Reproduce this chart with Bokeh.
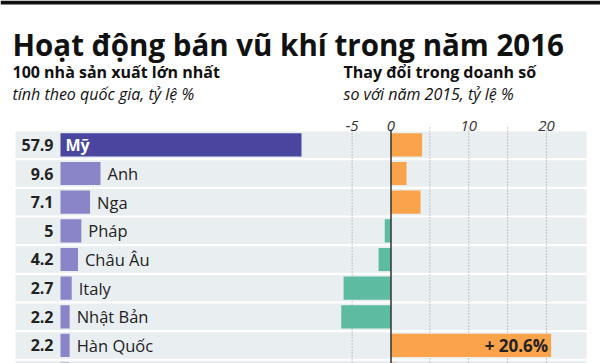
from bokeh.plotting import figure
from bokeh.models import Range1d, Label, ColumnDataSource
from bokeh.core.properties import value
from bokeh.embed import file_html
from bokeh.resources import INLINE

# ---- data ----
countries = ["Mỹ", "Anh", "Nga", "Pháp", "Châu Âu", "Italy", "Nhật Bản", "Hàn Quốc", "Israel"]
share = [57.9, 9.6, 7.1, 5, 4.2, 2.7, 2.2, 2.2, 2.1]
share_labels = ["57.9", "9.6", "7.1", "5", "4.2", "2.7", "2.2", "2.2", "2.1"]
change = [4.0, 2.0, 3.8, -0.8, -1.6, -6.1, -6.4, 20.6, 0.8]
change_labels = ["", "", "", "", "", "", "", "+ 20.6%", ""]
tick_vals = [-5, 0, 10, 20]
tick_labels = ["-5", "0", "10", "20"]
grid_vals = [-5, 5, 10, 15, 20]

title = "Hoạt động bán vũ khí trong năm 2016"
sub_left = "100 nhà sản xuất lớn nhất"
sub_left2 = "tính theo quốc gia, tỷ lệ %"
sub_right = "Thay đổi trong doanh số"
sub_right2 = "so với năm 2015, tỷ lệ  %"

# ---- layout ----
W, H = 600, 363
FONT = "Open Sans"
L0, LPX = 60.0, 4.1623      # left panel zero (px) and px per unit
R0, RPX = 390.5, 7.772      # right panel zero (px) and px per unit
Y0, PITCH = 144.35, 28.66   # first row centre (px from top) and row pitch

p = figure(width=W, height=H, output_backend="svg", toolbar_location=None,
           x_range=Range1d(-L0 / LPX, (W - L0) / LPX),
           y_range=Range1d((H - Y0) / PITCH, -Y0 / PITCH),
           min_border=0, outline_line_color=None, background_fill_color="white")
p.extra_x_ranges = {"rx": Range1d(-R0 / RPX, (W - R0) / RPX)}
p.xaxis.visible = False
p.yaxis.visible = False
p.grid.visible = False

rows = list(range(len(countries)))
ybot = (H - Y0) / PITCH
ytop = -Y0 / PITCH
# rows whose labels fall inside the picture (the last row is cut by the frame edge)
vis = [i for i in rows if i + 0.5 < ybot]

# black strip at the very top
p.quad(left=[-L0 / LPX], right=[(W - L0) / LPX], top=[ytop], bottom=[ytop + 4 / PITCH],
       color="#111111", line_color=None)

# background bands
band_l = (15 - L0) / LPX
band_r = (586 - L0) / LPX
p.hbar(y=rows, left=band_l, right=band_r, height=0.925, color="#e9eef1", line_color=None)

# dotted grid for right panel
p.segment(x0=grid_vals, x1=grid_vals, y0=ytop + 127 / PITCH, y1=ybot, x_range_name="rx",
          line_color="#9a9a9a", line_width=1, line_dash="1 2")

# left bars
top = max(share)
lcolors = ["#4a46a0" if s == top else "#8a84c8" for s in share]
p.hbar(y=rows, left=0, right=share, height=0.81, color=lcolors, line_color=None)

# right bars
rcolors = ["#fba34a" if c >= 0 else "#5cbba0" for c in change]
p.hbar(y=rows, left=0, right=change, height=0.81, color=rcolors, line_color=None,
       x_range_name="rx")

# zero line
p.segment(x0=[0], x1=[0], y0=[ytop + 129 / PITCH], y1=[ybot], x_range_name="rx",
          line_color="#333333", line_width=1.5)

# numbers
p.text(x=[0] * len(vis), y=vis, text=[share_labels[i] for i in vis], x_offset=-7,
       text_align="right", text_baseline="middle", text_font=value(FONT),
       text_font_style="bold", text_font_size="16px", text_color="#222222")

# country labels
src_in = ColumnDataSource(dict(x=[0 for i in vis if share[i] == top],
                               y=[i for i in vis if share[i] == top],
                               t=[countries[i] for i in vis if share[i] == top]))
src_out = ColumnDataSource(dict(x=[share[i] for i in vis if share[i] != top],
                                y=[i for i in vis if share[i] != top],
                                t=[countries[i] for i in vis if share[i] != top]))
p.text(x="x", y="y", text="t", source=src_in, x_offset=5, text_align="left",
       text_baseline="middle", text_font=value(FONT), text_font_style="bold",
       text_font_size="16px", text_color="white")
p.text(x="x", y="y", text="t", source=src_out, x_offset=7, text_align="left",
       text_baseline="middle", text_font=value(FONT), text_font_size="16.5px",
       text_color="#222222")

# change annotation
p.text(x=[change[i] for i in vis], y=vis, text=[change_labels[i] for i in vis],
       x_offset=-3, x_range_name="rx",
       text_align="right", text_baseline="middle", text_font=value(FONT),
       text_font_style="bold", text_font_size="17px", text_color="#222222")

# tick labels
p.text(x=tick_vals, y=[ytop + 125 / PITCH] * len(tick_vals), text=tick_labels,
       x_range_name="rx", text_align="center", text_baseline="alphabetic",
       text_font=value(FONT), text_font_style="italic", text_font_size="15px",
       text_color="#333333")

# titles
def lab(x, baseline, text, size, style):
    p.add_layout(Label(x=x, y=H - baseline, x_units="screen", y_units="screen",
                       text=text, text_font=FONT, text_font_size=size,
                       text_font_style=style, text_color="#111111",
                       text_baseline="alphabetic"))

lab(12, 43.5, title, "29.5px", "bold")
lab(12, 71, sub_left, "16px", "bold")
lab(12, 93, sub_left2, "16px", "italic")
lab(343, 71, sub_right, "16px", "bold")
lab(343, 93, sub_right2, "16px", "italic")

open("out.html", "w").write(file_html(p, INLINE))
